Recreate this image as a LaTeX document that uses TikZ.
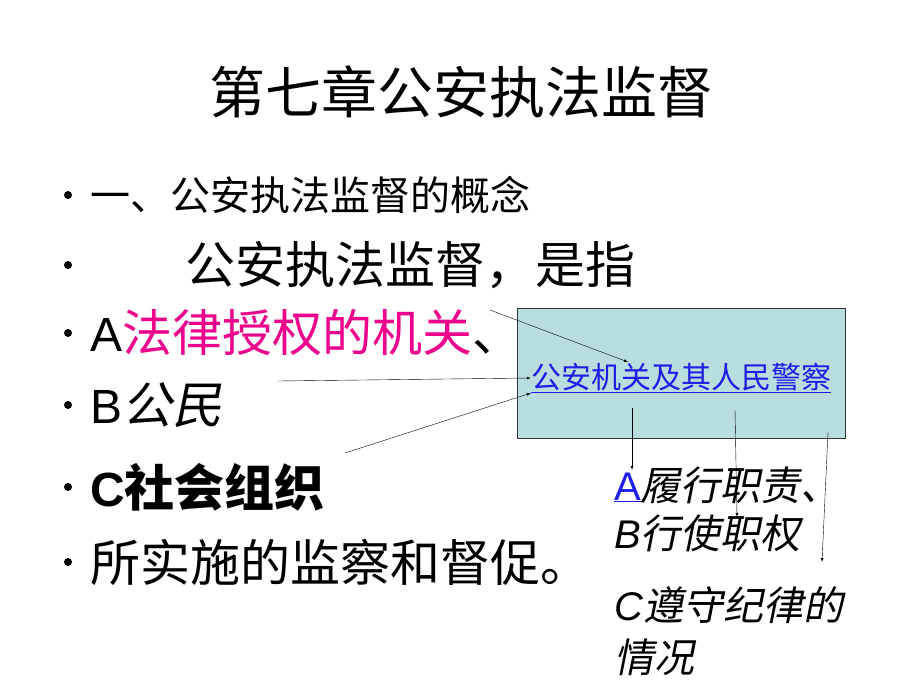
\documentclass[tikz,border=0pt]{standalone}
\usepackage{fontspec}
\setmainfont{Liberation Sans}
\newfontfamily\cjk{Noto Sans CJK SC}
\newfontfamily\cjksl{Noto Sans CJK SC}[FakeSlant=0.2]
\newfontfamily\cjkbf{Noto Sans CJK SC Bold}
\usetikzlibrary{positioning}
\definecolor{boxfill}{RGB}{183,221,222}
\definecolor{linkblue}{RGB}{30,30,230}
\tikzset{
  line/.style={draw,thin,-latex},
  txt/.style={anchor=west,inner sep=0pt},
  bul/.style={circle,fill=black,inner sep=0pt,minimum size=8pt}
}
\begin{document}
\begin{tikzpicture}[x=1pt,y=-1pt]
\useasboundingbox (0,0) rectangle (920,690);
\node[inner sep=0pt,font=\fontsize{56}{56}\selectfont\cjk] (title) at (461,92) {第七章公安执法监督};
% bullets
\foreach \y/\n in {195/b1,265/b2,333/b3,405/b4,487/b5,562/b6}
  \node[bul] (\n) at (68,\y) {};
\node[txt,font=\fontsize{40}{40}\selectfont\cjk] (l1) at (90,195) {一、公安执法监督的概念};
\node[txt,font=\fontsize{50}{50}\selectfont\cjk] (l2) at (185,265) {公安执法监督，是指};
\node[txt,font=\fontsize{48}{48}\selectfont] (l3) at (90,333) {A{\cjk\fontsize{50}{50}\selectfont\color{magenta}法律授权的机关}{\cjk\fontsize{50}{50}\selectfont 、}};
\node[txt,font=\fontsize{48}{48}\selectfont] (l4) at (90,405) {B{\cjksl\fontsize{50}{50}\selectfont 公民}};
\node[txt,font=\fontsize{48}{48}\selectfont\bfseries] (l5) at (90,487) {C{\cjkbf\fontsize{50}{50}\selectfont 社会组织}};
\node[txt,font=\fontsize{50}{50}\selectfont\cjk] (l6) at (90,562) {所实施的监察和督促。};
% box
\node[draw=black!80,fill=boxfill,minimum width=328pt,minimum height=130pt,anchor=north west,inner sep=0pt] (box) at (517,308) {};
\node[inner sep=0pt,font=\fontsize{30}{30}\selectfont\cjk,text=linkblue] (police) at (681,378) {\underline{公安机关及其人民警察}};
% right texts
\node[txt,font=\fontsize{40}{40}\selectfont] (ra) at (614,485) {{\color{linkblue}\underline{A}}{\cjksl 履行职责、}};
\node[txt,font=\fontsize{40}{40}\selectfont] (rb) at (614,533) {\textit{B}{\cjksl 行使职权}};
\node[txt,font=\fontsize{40}{40}\selectfont] (rc) at (614,605) {\textit{C}{\cjksl 遵守纪律的}};
\node[txt,font=\fontsize{40}{40}\selectfont\cjksl] (rd) at (614,657) {情况};
% connectors
\coordinate (s1) at (490,310);
\coordinate (s2) at (278,381);
\coordinate (s3) at (345,453);
\coordinate (d1) at (632,408);
\coordinate (d2) at (735,410);
\coordinate (d3) at (828,432);
\draw[line] (s1) -- (628,362);
\draw[line] (s2) -- (police.west);
\draw[line] (s3) -- (police.south west);
\draw[line] (d1) -- (632,470);
\draw[line] (d2) -- (737,517);
\draw[line] (d3) -- (822,562);
\end{tikzpicture}
\end{document}
